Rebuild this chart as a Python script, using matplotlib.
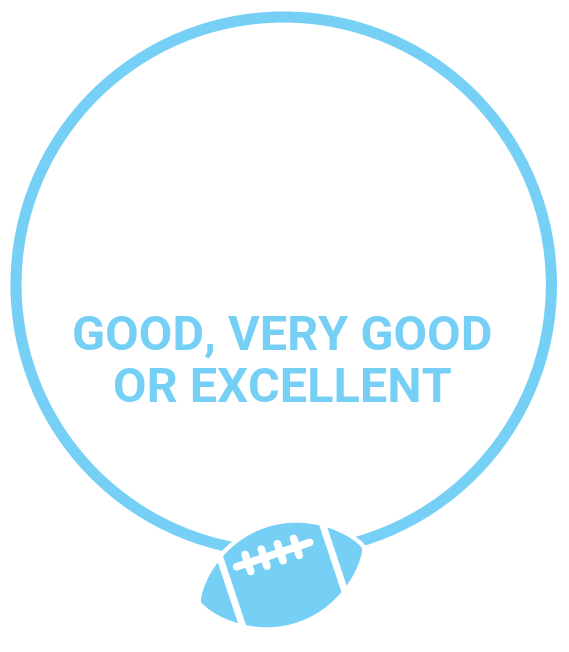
import numpy as np
import matplotlib
matplotlib.use('Agg')
import matplotlib.pyplot as plt
from matplotlib.patches import Circle, Polygon

# text and shape settings
label_lines = ['GOOD, VERY GOOD', 'OR EXCELLENT']
label_baselines = [350, 402]
lace_x = [-40, 37]
stitch_x = [-28, -11, 6, 23]
stripe_x = [-53, 55]

blue = '#76d0f5'

fig = plt.figure(figsize=(5.69, 6.52), dpi=100)
ax = fig.add_axes([0, 0, 1, 1])
ax.set_xlim(0, 569)
ax.set_ylim(652, 0)
ax.set_aspect('equal')
ax.axis('off')

# big ring
ring = Circle((283.7, 284.7), 267.7, fill=False, edgecolor=blue, linewidth=8, zorder=1)
ax.add_patch(ring)

for line, y in zip(label_lines, label_baselines):
    ax.text(282, y, line, ha='center', va='baseline', color=blue,
            fontsize=35, fontweight='bold', family='Roboto')

# football, drawn in its own frame and turned
cx, cy = 281.5, 575
ang = np.radians(18.4)
a, b = 87, 52

def to_img(lx, ly):
    lx = np.asarray(lx, float)
    ly = np.asarray(ly, float)
    x = cx + lx * np.cos(ang) + ly * np.sin(ang)
    y = cy - lx * np.sin(ang) + ly * np.cos(ang)
    return x, y

t = np.linspace(0, 2 * np.pi, 200)
s = np.sin(t)
bx = a * np.cos(t)
by = b * s * np.abs(s) ** 0.5
px, py = to_img(bx, by)
ball = Polygon(np.column_stack([px, py]), closed=True, facecolor=blue,
               edgecolor='white', linewidth=3, zorder=2)
ax.add_patch(ball)

for sx in stripe_x:
    x, y = to_img([sx, sx], [-70, 70])
    ln, = ax.plot(x, y, color='white', linewidth=5, zorder=3)
    ln.set_clip_path(ball)

x, y = to_img(lace_x, [-22, -22])
ax.plot(x, y, color='white', linewidth=5.5, solid_capstyle='round', zorder=4)
for sx in stitch_x:
    x, y = to_img([sx, sx], [-31, -13])
    ax.plot(x, y, color='white', linewidth=5.5, solid_capstyle='round', zorder=4)

fig.savefig('out.png', dpi=100, facecolor='white')
